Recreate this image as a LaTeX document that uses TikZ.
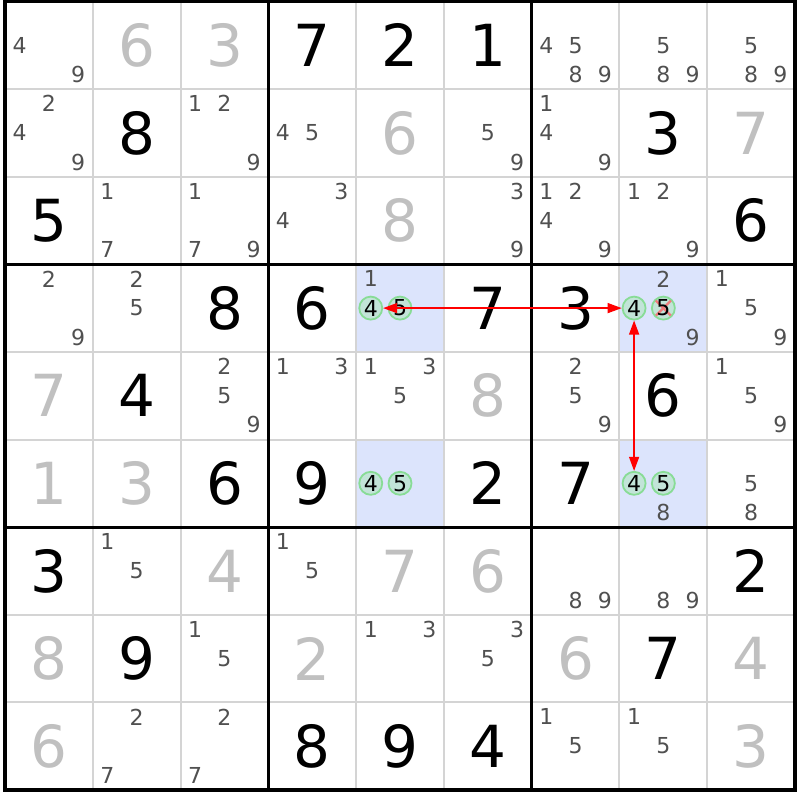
\documentclass[tikz,border=0pt]{standalone}
\usepackage{fontspec}
\setmainfont{DejaVu Sans}
\usetikzlibrary{arrows.meta,calc}
\definecolor{solvedcol}{HTML}{C0C0C0}
\definecolor{candcol}{HTML}{505050}
\definecolor{thingrid}{HTML}{D4D4D4}
\definecolor{hilite}{HTML}{DCE4FC}
\definecolor{circline}{HTML}{88DC96}
\definecolor{circfill}{HTML}{C2E4D8}
\definecolor{xcol}{HTML}{F07C7C}
\definecolor{arrowred}{HTML}{FF0000}
\tikzset{
  givenstyle/.style={font=\fontsize{58}{58}\selectfont, text=black, inner sep=0pt},
  solvedstyle/.style={font=\fontsize{58}{58}\selectfont, text=solvedcol, inner sep=0pt},
  candstyle/.style={font=\fontsize{22}{22}\selectfont, text=candcol, inner sep=0pt},
  circstyle/.style={circle, draw=circline, fill=circfill, line width=1.8pt, minimum size=23pt, inner sep=0pt, font=\fontsize{22}{22}\selectfont, text=black},
  circtext/.style={font=\fontsize{22}{22}\selectfont, text=black, inner sep=0pt},
  thingridline/.style={draw=thingrid, line width=2pt},
  boxline/.style={draw=black, line width=3pt},
  xmarkline/.style={draw=xcol, line width=2.2pt},
  linkarrow/.style={draw=arrowred, line width=1.3pt, {Triangle[length=14pt,width=10pt]}-{Triangle[length=14pt,width=10pt]}},
  hilitecell/.style={fill=hilite, draw=none}
}
\newcommand\givendigit[3]{\node[givenstyle] (d#1#2) at ({5+(#2+0.5)*87.78},{1.5+(#1+0.5)*87.6}) {#3};}
\newcommand\solveddigit[3]{\node[solvedstyle] (d#1#2) at ({5+(#2+0.5)*87.78},{1.5+(#1+0.5)*87.6}) {#3};}
\newcommand\candlist[3]{\foreach \k in {#3}{%
  \pgfmathtruncatemacro\csub{mod(\k-1,3)}%
  \pgfmathtruncatemacro\rsub{div(\k-1,3)}%
  \node[candstyle] (k#1#2\k) at ({5+(#2+0.5)*87.78+(\csub-1)*29.26},{1.5+(#1+0.5)*87.6+(\rsub-1)*29.2}) {\k};}}
\newcommand\candpos[3]{({5+(#2+0.5)*87.78+(mod(#3-1,3)-1)*29.26},{1.5+(#1+0.5)*87.6+(div(#3-1,3)-1)*29.2})}
\newcommand\hicell[2]{\fill[hilitecell] ({5+#2*87.78},{1.5+#1*87.6}) rectangle ({5+(#2+1)*87.78},{1.5+(#1+1)*87.6});}
\begin{document}
\begin{tikzpicture}[x=1pt,y=-1pt]
\useasboundingbox (0,0) rectangle (800,800);
\fill[white] (0,0) rectangle (800,800);
% highlighted cells
\hicell{3}{4}
\hicell{5}{4}
\hicell{3}{7}
\hicell{5}{7}
% grid
\foreach \i in {1,2,4,5,7,8}{
  \draw[thingridline] ({5+\i*87.78},1.5) -- ({5+\i*87.78},790);
  \draw[thingridline] (5,{1.5+\i*87.6}) -- (795,{1.5+\i*87.6});
}
\foreach \i in {3,6}{
  \draw[boxline] ({5+\i*87.78},1.5) -- ({5+\i*87.78},790);
  \draw[boxline] (5,{1.5+\i*87.6}) -- (795,{1.5+\i*87.6});
}
\draw[draw=black, line width=4pt] (5,1.5) rectangle (795,790);
% row 0
\candlist{0}{0}{4,9}
\solveddigit{0}{1}{6}
\solveddigit{0}{2}{3}
\givendigit{0}{3}{7}
\givendigit{0}{4}{2}
\givendigit{0}{5}{1}
\candlist{0}{6}{4,5,8,9}
\candlist{0}{7}{5,8,9}
\candlist{0}{8}{5,8,9}
% row 1
\candlist{1}{0}{2,4,9}
\givendigit{1}{1}{8}
\candlist{1}{2}{1,2,9}
\candlist{1}{3}{4,5}
\solveddigit{1}{4}{6}
\candlist{1}{5}{5,9}
\candlist{1}{6}{1,4,9}
\givendigit{1}{7}{3}
\solveddigit{1}{8}{7}
% row 2
\givendigit{2}{0}{5}
\candlist{2}{1}{1,7}
\candlist{2}{2}{1,7,9}
\candlist{2}{3}{3,4}
\solveddigit{2}{4}{8}
\candlist{2}{5}{3,9}
\candlist{2}{6}{1,2,4,9}
\candlist{2}{7}{1,2,9}
\givendigit{2}{8}{6}
% row 3
\candlist{3}{0}{2,9}
\candlist{3}{1}{2,5}
\givendigit{3}{2}{8}
\givendigit{3}{3}{6}
\candlist{3}{4}{1}
\node[circstyle] (o344) at \candpos{3}{4}{4} {4};
\node[circstyle] (o345) at \candpos{3}{4}{5} {5};
\givendigit{3}{5}{7}
\givendigit{3}{6}{3}
\candlist{3}{7}{2,9}
\node[circstyle] (o374) at \candpos{3}{7}{4} {4};
\node[circstyle] (o375) at \candpos{3}{7}{5} {};
\draw[xmarkline] ($(o375)+(-7.5,-7.5)$) -- ($(o375)+(7.5,7.5)$);
\draw[xmarkline] ($(o375)+(-7.5,7.5)$) -- ($(o375)+(7.5,-7.5)$);
\node[circtext] (t375) at (o375) {5};
\candlist{3}{8}{1,5,9}
% row 4
\solveddigit{4}{0}{7}
\givendigit{4}{1}{4}
\candlist{4}{2}{2,5,9}
\candlist{4}{3}{1,3}
\candlist{4}{4}{1,3,5}
\solveddigit{4}{5}{8}
\candlist{4}{6}{2,5,9}
\givendigit{4}{7}{6}
\candlist{4}{8}{1,5,9}
% row 5
\solveddigit{5}{0}{1}
\solveddigit{5}{1}{3}
\givendigit{5}{2}{6}
\givendigit{5}{3}{9}
\node[circstyle] (o544) at \candpos{5}{4}{4} {4};
\node[circstyle] (o545) at \candpos{5}{4}{5} {5};
\givendigit{5}{5}{2}
\givendigit{5}{6}{7}
\node[circstyle] (o574) at \candpos{5}{7}{4} {4};
\node[circstyle] (o575) at \candpos{5}{7}{5} {5};
\candlist{5}{7}{8}
\candlist{5}{8}{5,8}
% row 6
\givendigit{6}{0}{3}
\candlist{6}{1}{1,5}
\solveddigit{6}{2}{4}
\candlist{6}{3}{1,5}
\solveddigit{6}{4}{7}
\solveddigit{6}{5}{6}
\candlist{6}{6}{8,9}
\candlist{6}{7}{8,9}
\givendigit{6}{8}{2}
% row 7
\solveddigit{7}{0}{8}
\givendigit{7}{1}{9}
\candlist{7}{2}{1,5}
\solveddigit{7}{3}{2}
\candlist{7}{4}{1,3}
\candlist{7}{5}{3,5}
\solveddigit{7}{6}{6}
\givendigit{7}{7}{7}
\solveddigit{7}{8}{4}
% row 8
\solveddigit{8}{0}{6}
\candlist{8}{1}{2,7}
\candlist{8}{2}{2,7}
\givendigit{8}{3}{8}
\givendigit{8}{4}{9}
\givendigit{8}{5}{4}
\candlist{8}{6}{1,5}
\candlist{8}{7}{1,5}
\solveddigit{8}{8}{3}
% links
\draw[linkarrow] (o344) -- (o374);
\draw[linkarrow] (o374) -- (o574);
\end{tikzpicture}
\end{document}
